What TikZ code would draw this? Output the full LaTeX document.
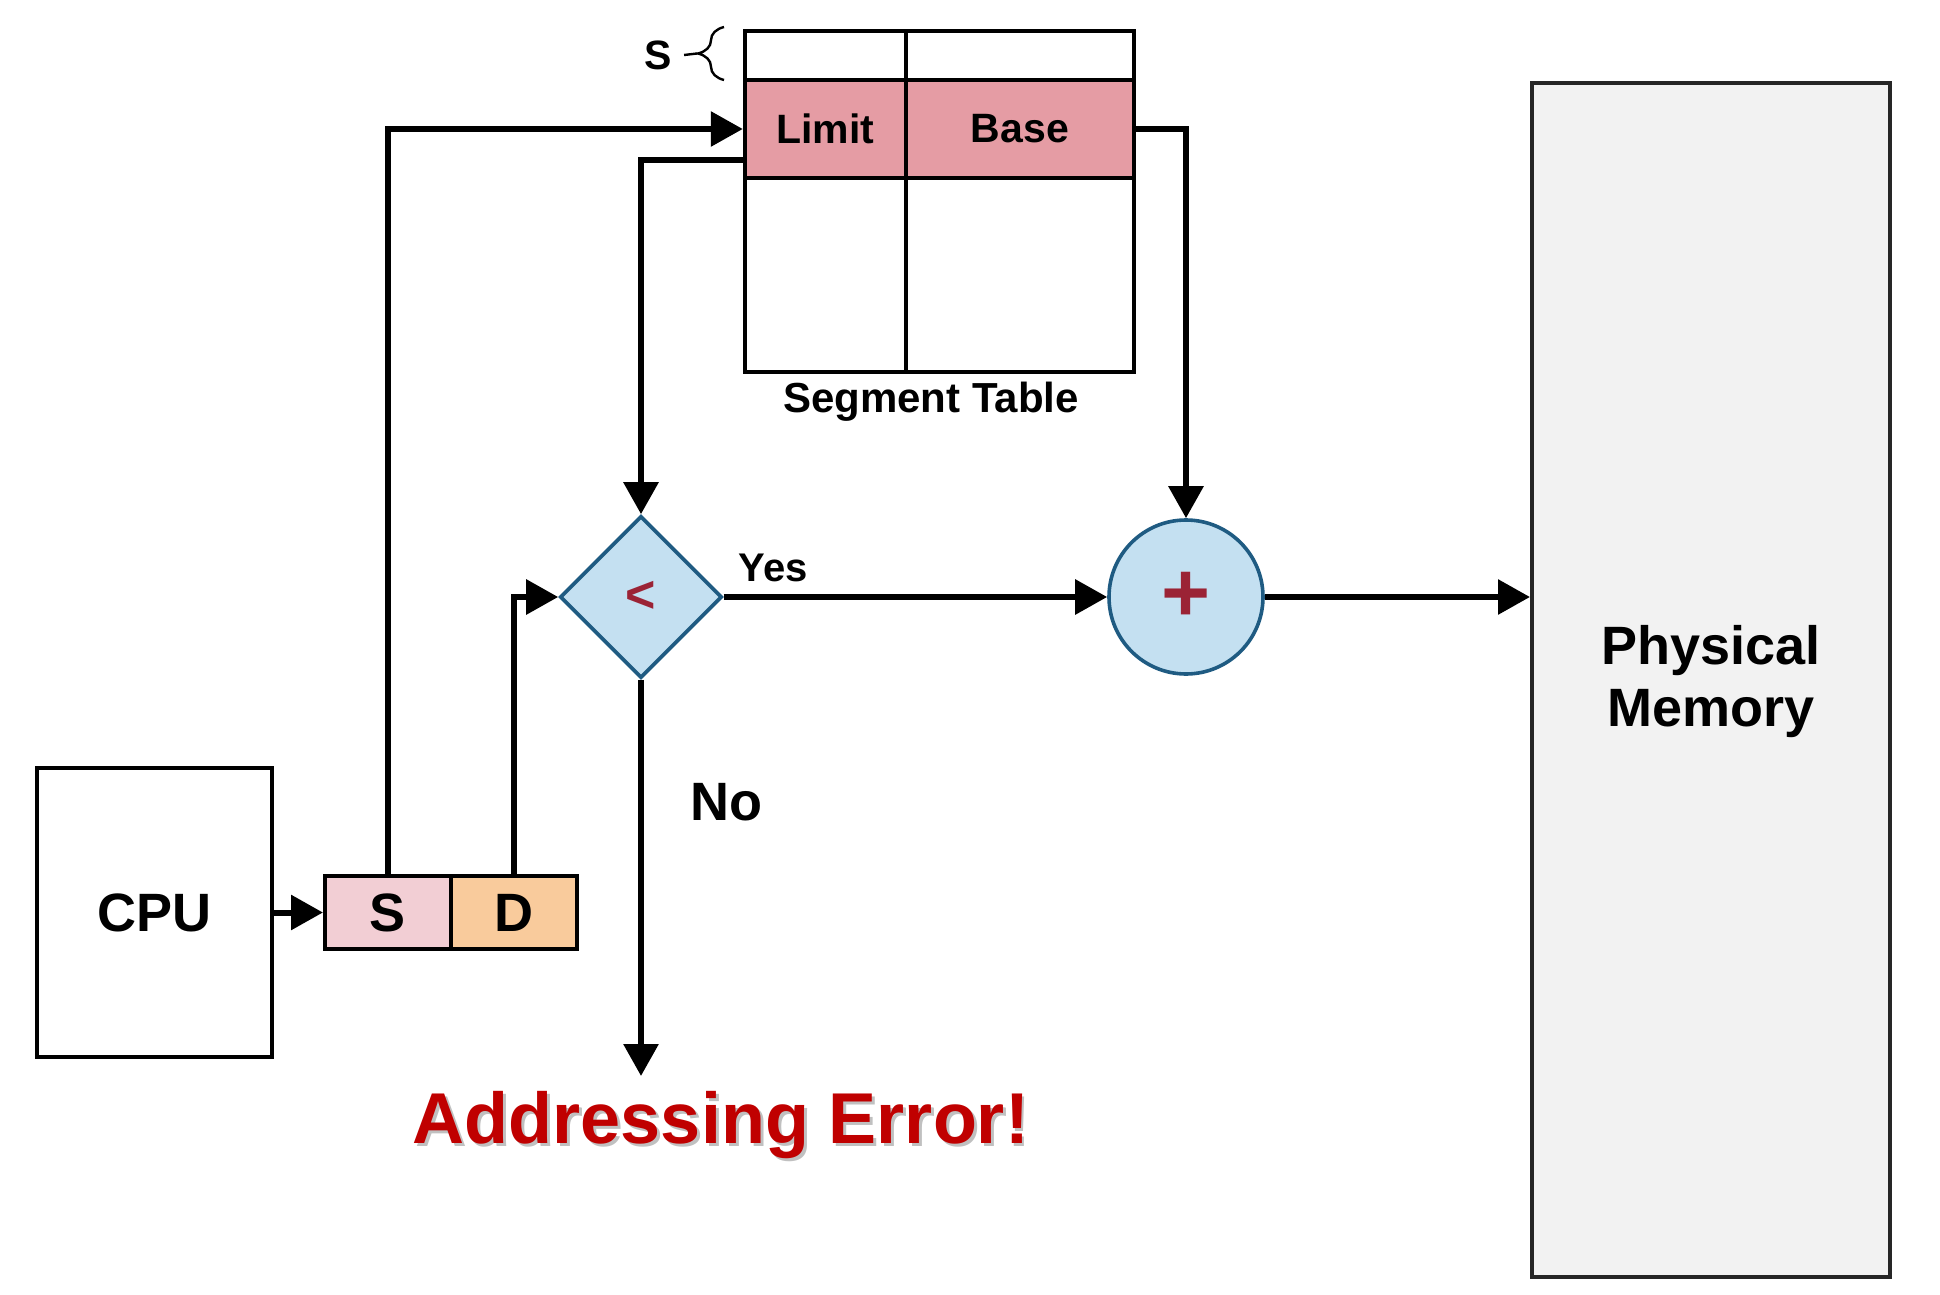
\documentclass[tikz,border=0pt]{standalone}
\usepackage{fontspec}
\setmainfont{Liberation Sans}
\usetikzlibrary{arrows.meta,shapes.geometric,decorations.pathreplacing}
\definecolor{pinkrow}{HTML}{E59CA4}
\definecolor{sfill}{HTML}{F2CED4}
\definecolor{dfill}{HTML}{F9CB9C}
\definecolor{opfill}{HTML}{C4E0F1}
\definecolor{opline}{HTML}{1F5B82}
\definecolor{opsym}{HTML}{9B2335}
\definecolor{errred}{HTML}{C00000}
\definecolor{memfill}{HTML}{F2F2F2}
\begin{document}
\begin{tikzpicture}[x=0.5pt,y=-0.5pt,
  box/.style={draw=black,line width=2pt,inner sep=0pt,font=\bfseries\fontsize{27}{30}\selectfont},
  cell/.style={draw=black,line width=2.2pt,inner sep=0pt,fill=pinkrow,minimum height=49pt,font=\bfseries\fontsize{20.5}{24}\selectfont},
  tbl/.style={draw=black,line width=2.2pt},
  arr/.style={draw=black,line width=3pt,-{Triangle[length=16pt,width=17pt]}},
  op/.style={draw=opline,line width=1.8pt,fill=opfill,inner sep=0pt,text=opsym},
  lbl/.style={inner sep=0pt,font=\bfseries\fontsize{20}{24}\selectfont}]
\useasboundingbox (0,0) rectangle (1940,1295);

% CPU and logical address
\node[box,minimum width=117.5pt,minimum height=144.5pt] (cpu) at (154.5,912.5) {CPU};
\node[box,fill=sfill,minimum width=63pt,minimum height=36.5pt] (sbox) at (388,912.5) {S};
\node[box,fill=dfill,minimum width=63pt,minimum height=36.5pt] (dbox) at (514,912.5) {D};

% Segment table
\fill[white] (745,31) rectangle (1134,372);
\node[cell,minimum width=80.5pt] (limit) at (825.5,129) {Limit};
\node[cell,minimum width=114pt] (base) at (1020,129) {Base};
\draw[tbl] (745,31) rectangle (1134,372);
\draw[tbl] (906,31) -- (906,372);
\node[lbl,anchor=base,font=\bfseries\fontsize{21}{24}\selectfont] (stlbl) at (931,412) {Segment Table};

% brace with S
\draw[line width=1.2pt,decorate,decoration={brace,amplitude=13pt,aspect=0.5}] (724,80) -- (724,27);
\coordinate (btip) at (697,53.5);
\node[lbl,font=\bfseries\fontsize{20.5}{24}\selectfont] (slbl) at (658,55) {S};
\draw[line width=1.2pt] (slbl.east) ++(6pt,0) -- (btip);

% comparator and adder
\node[op,diamond,minimum width=81pt,minimum height=81pt,font=\bfseries\fontsize{26}{30}\selectfont] (cmp) at (641,597) {<};
\node[op,circle,minimum size=77pt,font=\bfseries\fontsize{42}{44}\selectfont] (add) at (1186,597) {+};

% physical memory
\node[draw=black!85,line width=2pt,fill=memfill,minimum width=179pt,minimum height=597pt,inner sep=0pt] (mem) at (1711,680) {};
\node[align=center,font=\bfseries\fontsize{27}{31}\selectfont] (memlbl) at (1711,682) {Physical\\Memory};

% error target
\coordinate (err) at (641,1076);
\node[anchor=base,text=black!45,opacity=0.55,font=\bfseries\fontsize{36}{40}\selectfont] (errshadow) at (724,1146) {Addressing Error!};
\node[anchor=base,text=errred,font=\bfseries\fontsize{36}{40}\selectfont] (errlbl) at (721,1143) {Addressing Error!};

% connectors
\draw[arr] (cpu.east) -- (sbox.west);
\draw[arr] (sbox.north) |- (limit.west);
\draw[arr] ([yshift=-15.5pt]limit.west) -| (cmp.north);
\draw[arr] (dbox.north) |- (cmp.west);
\draw[arr] (cmp.east) -- (add.west);
\draw[arr] (base.east) -| (add.north);
\draw[arr] (add.east) -- (add.east -| mem.west);
\draw[arr] (cmp.south) -- (err);

\node[lbl,anchor=base] (yes) at (773,581) {Yes};
\node[lbl,anchor=base,font=\bfseries\fontsize{27}{30}\selectfont] (no) at (726,820) {No};
\end{tikzpicture}
\end{document}
